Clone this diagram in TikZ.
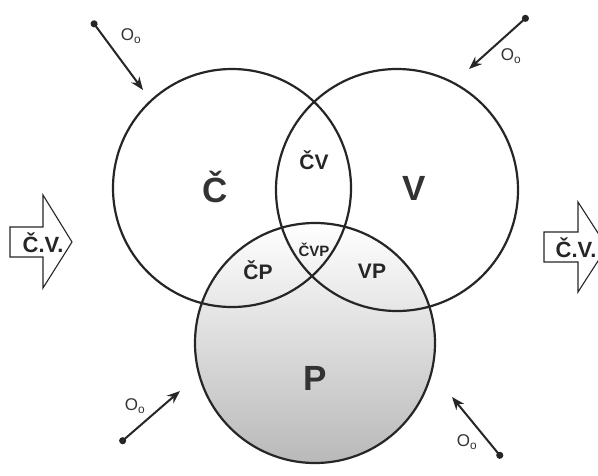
\documentclass[tikz,border=0pt]{standalone}
\usepackage{fontspec}
\setmainfont{Liberation Sans}
\usetikzlibrary{arrows.meta}
\begin{document}
\begin{tikzpicture}[x=1pt,y=-1pt,
  ring/.style={circle, draw=black!85, line width=2.2pt, minimum size=#1, inner sep=0pt},
  bigl/.style={font=\fontsize{35}{35}\selectfont\bfseries, text=black!80},
  midl/.style={font=\fontsize{21}{21}\selectfont\bfseries, text=black!85},
  smalll/.style={font=\fontsize{15}{15}\selectfont\bfseries, text=black!85},
  olab/.style={font=\fontsize{17}{17}\selectfont, text=black!80},
  inflow/.style={draw=black!85, line width=2pt, {Circle[length=7pt]}-{Stealth[length=13pt,width=10pt]}},
  bigarrow/.style={draw=black!85, line width=1.1pt, fill=white},
  cvlab/.style={font=\fontsize{22}{22}\selectfont\bfseries, text=black!85}
]
\useasboundingbox (0,0) rectangle (598,475);
\clip (0,0) rectangle (598,475);
\fill[white] (0,0) rectangle (598,475);

% circles
\node[ring=240pt, top color=white, middle color=gray!60, bottom color=gray!55] (P) at (315,343) {};
\node[ring=238pt] (C) at (232,188) {};
\node[ring=242pt] (V) at (397,190) {};

% region labels
\node[bigl] (lC) at (215,187) {Č};
\node[bigl] (lV) at (414,188) {V};
\node[bigl] (lP) at (315,378) {P};
\node[midl] (lCV) at (314,160) {ČV};
\node[smalll] (lCVP) at (314,250) {ČVP};
\node[midl] (lCP) at (258,270) {ČP};
\node[midl] (lVP) at (372,271) {VP};

% inflow arrows
\coordinate (s1) at (92,21);   \coordinate (t1) at (143,90);
\coordinate (s2) at (528,16);  \coordinate (t2) at (469,69);
\coordinate (s3) at (120,443); \coordinate (t3) at (180,391);
\coordinate (s4) at (502,458); \coordinate (t4) at (452,397);
\draw[inflow] (s1) -- (t1);
\draw[inflow] (s2) -- (t2);
\draw[inflow] (s3) -- (t3);
\draw[inflow] (s4) -- (t4);
\node[olab] (o1) at (131,36) {O\textsubscript{o}};
\node[olab] (o2) at (511,56) {O\textsubscript{o}};
\node[olab] (o3) at (135,406) {O\textsubscript{o}};
\node[olab] (o4) at (467,442) {O\textsubscript{o}};

% big arrows
\draw[bigarrow] (10,227) -- (43,227) -- (43,195) -- (72,242) -- (43,288) -- (43,257) -- (10,257) -- cycle;
\node[cvlab] (cvL) at (43,243) {Č.V.};
\draw[bigarrow] (544,232) -- (578,232) -- (578,202) -- (607,247) -- (578,292) -- (578,262) -- (544,262) -- cycle;
\node[cvlab] (cvR) at (576,248) {Č.V.};
\end{tikzpicture}
\end{document}
